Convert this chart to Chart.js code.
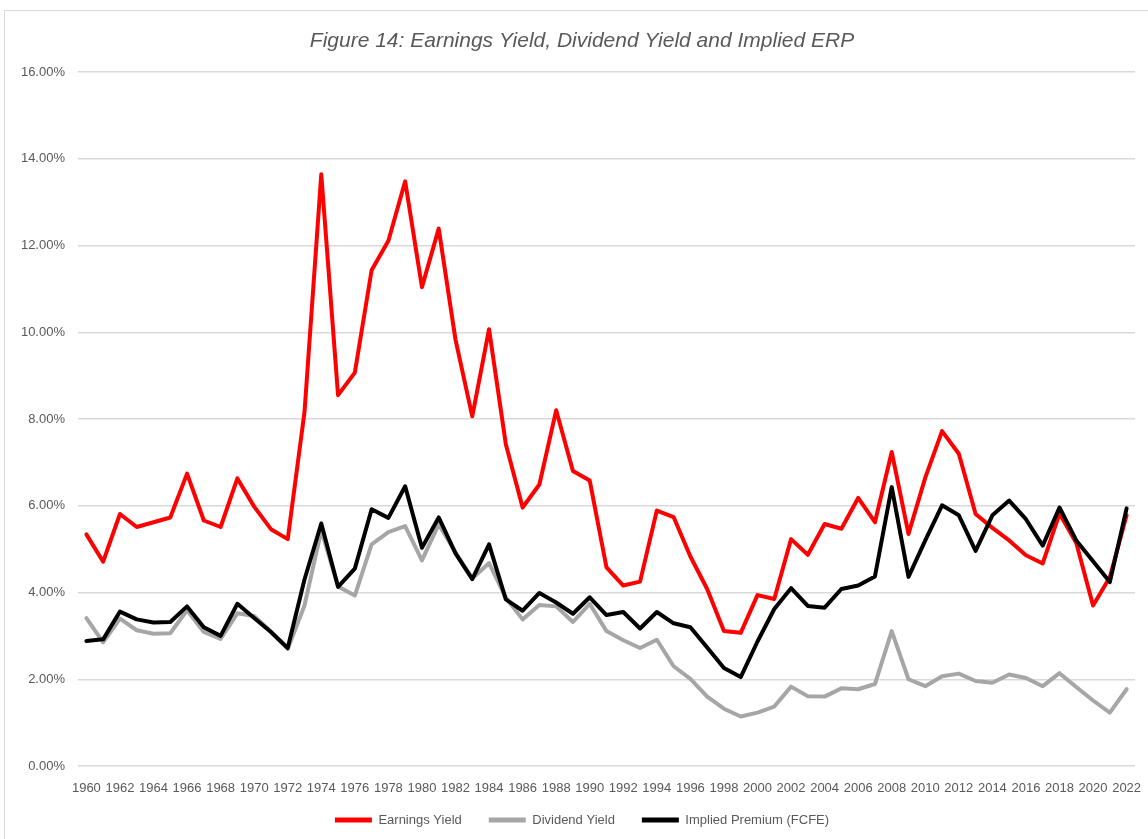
<!DOCTYPE html>
<html><head><meta charset="utf-8">
<script src="https://cdn.jsdelivr.net/npm/chart.js@4.4.1/dist/chart.umd.min.js"></script>
<style>html,body{margin:0;padding:0;background:#fff}#wrap{width:1148px;height:839px;position:relative}</style>
</head><body><div id="wrap"><canvas id="c" width="1148" height="839"></canvas></div>
<script>
const years = [1960,1961,1962,1963,1964,1965,1966,1967,1968,1969,1970,1971,1972,1973,1974,1975,1976,1977,1978,1979,1980,1981,1982,1983,1984,1985,1986,1987,1988,1989,1990,1991,1992,1993,1994,1995,1996,1997,1998,1999,2000,2001,2002,2003,2004,2005,2006,2007,2008,2009,2010,2011,2012,2013,2014,2015,2016,2017,2018,2019,2020,2021,2022];
const earningsYield = [5.34,4.71,5.81,5.51,5.62,5.73,6.74,5.66,5.51,6.63,5.98,5.46,5.23,8.16,13.64,8.55,9.07,11.43,12.11,13.48,11.04,12.39,9.83,8.06,10.07,7.42,5.96,6.49,8.20,6.80,6.58,4.58,4.16,4.25,5.89,5.74,4.83,4.08,3.11,3.07,3.94,3.85,5.23,4.87,5.58,5.47,6.18,5.62,7.24,5.35,6.65,7.72,7.20,5.81,5.49,5.20,4.86,4.67,5.82,5.14,3.70,4.35,5.78];
const dividendYield = [3.41,2.85,3.40,3.13,3.05,3.06,3.59,3.09,2.93,3.52,3.46,3.10,2.70,3.70,5.43,4.14,3.93,5.11,5.39,5.53,4.74,5.57,4.93,4.32,4.68,3.88,3.38,3.71,3.68,3.32,3.74,3.11,2.90,2.72,2.91,2.30,2.01,1.60,1.32,1.14,1.23,1.37,1.83,1.61,1.60,1.79,1.77,1.89,3.11,2.00,1.84,2.07,2.13,1.96,1.92,2.11,2.03,1.84,2.14,1.82,1.51,1.23,1.77];
const impliedERP = [2.88,2.92,3.56,3.38,3.31,3.32,3.68,3.20,3.00,3.74,3.41,3.09,2.72,4.30,5.59,4.13,4.55,5.92,5.72,6.45,5.03,5.73,4.90,4.31,5.11,3.84,3.58,3.99,3.77,3.51,3.89,3.48,3.55,3.17,3.55,3.29,3.20,2.73,2.26,2.05,2.87,3.62,4.10,3.69,3.65,4.08,4.16,4.37,6.43,4.36,5.20,6.01,5.78,4.96,5.78,6.12,5.69,5.08,5.96,5.20,4.72,4.24,5.94];
const seriesNames = ['Earnings Yield','Dividend Yield','Implied Premium (FCFE)'];
const titleText = 'Figure 14: Earnings Yield, Dividend Yield and Implied ERP';

const frame = {id:'frame',
  afterLayout(chart){ Object.values(chart.scales).forEach(s=>{ s._computeLabelArea = function(){ return undefined; }; }); },
  beforeDraw(chart){const ctx=chart.ctx;ctx.save();ctx.fillStyle='#fff';ctx.fillRect(0,0,chart.width,chart.height);ctx.strokeStyle='#d9d9d9';ctx.lineWidth=1;ctx.strokeRect(4.5,10.5,1300,1000);ctx.restore();}};
const tickFont = {family:'Liberation Sans', size:13};
new Chart(document.getElementById('c'), {
  type:'line',
  data:{labels:years, datasets:[
    {label:seriesNames[0], data:earningsYield, borderColor:'#ff0000', backgroundColor:'#ff0000', borderWidth:4, order:2},
    {label:seriesNames[1], data:dividendYield, borderColor:'#a6a6a6', backgroundColor:'#a6a6a6', borderWidth:4, order:1},
    {label:seriesNames[2], data:impliedERP, borderColor:'#000000', backgroundColor:'#000000', borderWidth:4, order:0}
  ]},
  options:{
    responsive:false, animation:false, devicePixelRatio:1,
    layout:{padding:{left:29,right:13,top:10,bottom:2.5}},
    elements:{point:{radius:0}, line:{tension:0, borderJoinStyle:'round', borderCapStyle:'round'}},
    plugins:{
      title:{display:true, text:titleText, color:'#595959', font:{family:'Liberation Sans', size:21, style:'italic', weight:'normal'}, padding:{top:18.4, bottom:18.4}},
      legend:{position:'bottom', labels:{boxWidth:37, boxHeight:5, padding:27, color:'#595959', font:tickFont,
        sort:(a,b)=>a.datasetIndex-b.datasetIndex,
        generateLabels(chart){const items=Chart.defaults.plugins.legend.labels.generateLabels(chart);items.forEach(it=>{it.lineWidth=0;});return items;}}},
      tooltip:{enabled:false}
    },
    scales:{
      x:{offset:true, grid:{display:false, drawTicks:false}, border:{display:false},
        ticks:{autoSkip:false, maxRotation:0, minRotation:0, padding:15, color:'#595959', font:tickFont,
          callback(v,i){return i%2===0 ? String(years[i]) : '';}},
        afterFit(s){s.height=20.5; s.paddingLeft=0; s.paddingRight=0;}},
      y:{min:0, max:16, grid:{color:'#d9d9d9', lineWidth:1.5, drawTicks:false}, border:{display:false},
        ticks:{stepSize:2, padding:13, color:'#595959', font:tickFont, callback:v=>Number(v).toFixed(2)+'%'},
        afterFit(s){s.width=49;}}
    }
  },
  plugins:[frame]
});
</script></body></html>
